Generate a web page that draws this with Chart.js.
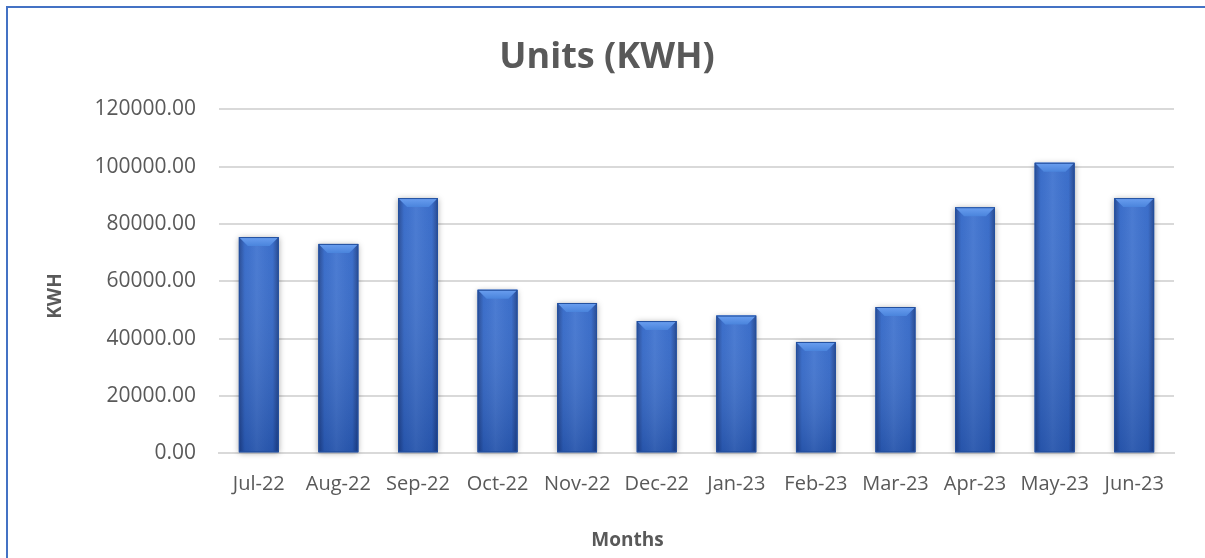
<!DOCTYPE html>
<html>
<head>
<meta charset="utf-8">
<script src="https://cdn.jsdelivr.net/npm/chart.js@4.4.0/dist/chart.umd.min.js"></script>
<style>
    html, body { margin: 0; padding: 0; background: #fff; overflow: hidden; }
</style>
</head>
<body>
<canvas id="chart" width="1205" height="558"></canvas>
<script>
// chart data
const months = ['Jul-22', 'Aug-22', 'Sep-22', 'Oct-22', 'Nov-22', 'Dec-22',
                'Jan-23', 'Feb-23', 'Mar-23', 'Apr-23', 'May-23', 'Jun-23'];
const kwhUnits = [75400, 73000, 89000, 57000, 52400, 46100,
                  48000, 38800, 51000, 85800, 101300, 89000];
const yTicks = [0, 20000, 40000, 60000, 80000, 100000, 120000];

const textGray = '#595959';
const fontFamily = "'Open Sans', 'Noto Sans', sans-serif";

// blue chart border, only top and left are inside the picture
const frameBorder = {
    id: 'frameBorder',
    afterDraw(chart) {
        const ctx = chart.ctx;
        ctx.save();
        ctx.strokeStyle = '#4472c4';
        ctx.lineWidth = 2;
        ctx.beginPath();
        ctx.moveTo(7, chart.height);
        ctx.lineTo(7, 7);
        ctx.lineTo(chart.width, 7);
        ctx.stroke();
        ctx.restore();
    }
};

// bevel + shading drawn on top of each bar (excel style)
const bevelBars = {
    id: 'bevelBars',
    beforeDatasetsDraw(chart) {
        // soft shadow behind the bars
        const ctx = chart.ctx;
        chart.getDatasetMeta(0).data.forEach(bar => {
            ctx.save();
            ctx.shadowColor = 'rgba(0,0,0,0.35)';
            ctx.shadowBlur = 6;
            ctx.shadowOffsetY = 1;
            ctx.fillStyle = '#2a5cbc';
            ctx.fillRect(bar.x - bar.width / 2, bar.y, bar.width, bar.base - bar.y);
            ctx.restore();
        });
    },
    afterDatasetsDraw(chart) {
        const ctx = chart.ctx;
        chart.getDatasetMeta(0).data.forEach(bar => {
            const left = bar.x - bar.width / 2;
            const right = bar.x + bar.width / 2;
            const top = bar.y;
            const bottom = bar.base;
            const b = 9;
            ctx.save();
            // side shading
            const g = ctx.createLinearGradient(left, 0, right, 0);
            g.addColorStop(0, 'rgba(15,35,90,0.55)');
            g.addColorStop(0.15, 'rgba(15,35,90,0.05)');
            g.addColorStop(0.45, 'rgba(255,255,255,0.07)');
            g.addColorStop(0.85, 'rgba(15,35,90,0.05)');
            g.addColorStop(1, 'rgba(15,35,90,0.6)');
            ctx.fillStyle = g;
            ctx.fillRect(left, top, right - left, bottom - top);
            // vertical darkening toward the base
            const v = ctx.createLinearGradient(0, top, 0, bottom);
            v.addColorStop(0, 'rgba(255,255,255,0.06)');
            v.addColorStop(1, 'rgba(10,25,70,0.22)');
            ctx.fillStyle = v;
            ctx.fillRect(left, top, right - left, bottom - top);
            // top bevel
            ctx.beginPath();
            ctx.moveTo(left, top);
            ctx.lineTo(right, top);
            ctx.lineTo(right - b, top + b);
            ctx.lineTo(left + b, top + b);
            ctx.closePath();
            const t = ctx.createLinearGradient(0, top, 0, top + b);
            t.addColorStop(0, '#6b9ff0');
            t.addColorStop(1, '#4a84dc');
            ctx.fillStyle = t;
            ctx.fill();
            ctx.strokeStyle = '#23509f';
            ctx.lineWidth = 1;
            ctx.strokeRect(left + 0.5, top + 0.5, right - left - 1, bottom - top - 1);
            ctx.restore();
        });
    }
};

const ctx = document.getElementById('chart').getContext('2d');
const chart = new Chart(ctx, {
    type: 'bar',
    data: {
        labels: months,
        datasets: [{
            label: 'Units (KWH)',
            data: kwhUnits,
            backgroundColor: '#3068cc',
            borderWidth: 0,
            barPercentage: 0.5,
            categoryPercentage: 1.0
        }]
    },
    options: {
        responsive: false,
        animation: false,
        layout: { padding: { left: 40, right: 31, top: 0, bottom: 6 } },
        plugins: {
            legend: { display: false },
            tooltip: { enabled: false },
            title: {
                display: true,
                text: 'Units (KWH)',
                color: textGray,
                font: { family: fontFamily, size: 36, weight: 'bold' },
                padding: { top: 36, bottom: 30 }
            }
        },
        scales: {
            x: {
                grid: { display: false, drawTicks: false },
                border: { color: '#d9d9d9', width: 2 },
                ticks: {
                    color: textGray,
                    font: { family: fontFamily, size: 20 },
                    padding: 19,
                    maxRotation: 0
                },
                title: {
                    display: true,
                    // trailing spaces push the title left like in the original
                    text: 'Months' + ' '.repeat(28),
                    color: textGray,
                    font: { family: fontFamily, size: 19, weight: 'bold' },
                    padding: { top: 14, bottom: 0 }
                }
            },
            y: {
                min: 0,
                max: 120000,
                afterFit(scale) { scale.width = 179; },
                afterBuildTicks(scale) { scale.ticks = yTicks.map(v => ({ value: v })); },
                grid: { color: '#d9d9d9', lineWidth: 2, drawTicks: false },
                border: { display: false },
                ticks: {
                    color: textGray,
                    font: { family: fontFamily, size: 21 },
                    padding: 23,
                    callback: v => Number(v).toFixed(2)
                },
                title: {
                    display: true,
                    text: 'KWH' + ' '.repeat(6),
                    color: textGray,
                    font: { family: fontFamily, size: 19, weight: 'bold' },
                    padding: { top: 4, bottom: 0 }
                }
            }
        }
    },
    plugins: [bevelBars, frameBorder]
});
</script>
</body>
</html>
